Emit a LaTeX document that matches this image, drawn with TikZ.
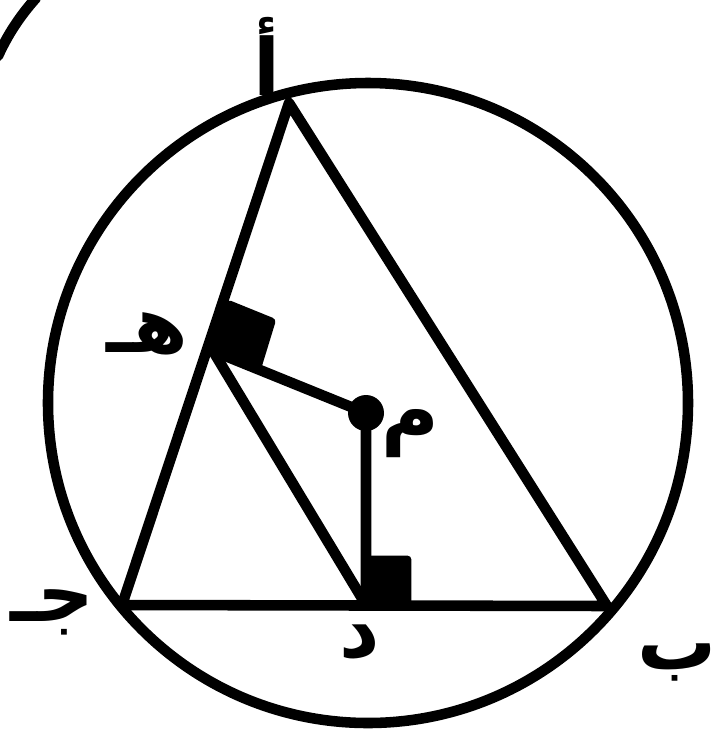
\documentclass[tikz,border=0pt]{standalone}
\usepackage{fontspec}
\usetikzlibrary{calc}
\TeXXeTstate=1
\newfontfamily\arabicfont[Script=Arabic]{DejaVu Sans}
\tikzset{
  ptlabel/.style={font=\arabicfont\bfseries\fontsize{56}{60}\selectfont, inner sep=0pt},
  edge/.style={line width=7.5pt, line cap=round, line join=round},
  rightmark/.style={fill=black, draw=black, line width=2pt, rounded corners=2pt}
}
\begin{document}
\begin{tikzpicture}[x=0.025cm,y=-0.025cm]
	\useasboundingbox (0,0) rectangle (715,739);
	% Points
	\coordinate (O) at (368,403);
	\coordinate (A) at (289,103);
	\coordinate (B) at (607,606);
	\coordinate (C) at (122,605);
	\coordinate (D) at (366,605);
	\coordinate (H) at (213,351);
	\coordinate (M) at (366,413);
	% Circle and edge of the next one
	\draw[edge] (O) circle (320);
	\draw[edge] (-2,56) .. controls (8,34) and (20,16) .. (36,-2);
	% Triangle and segments
	\draw[edge] (A) -- (B) -- (C) -- cycle;
	\draw[edge] (H) -- (D);
	\draw[edge] (H) -- (M) -- (D);
	% Right angle marks
	\coordinate (h1) at ($(H)!1.3cm!(A)$);
	\coordinate (h2) at ($(H)!1.25cm!(M)$);
	\fill[rightmark] (H) -- (h1) -- ($(h1)+(h2)-(H)$) -- (h2) -- cycle;
	\fill[rightmark] (D) -- ++(44,0) -- ++(0,-48) -- ++(-44,0) -- cycle;
	\fill (M) circle (18);
	% Labels
	\node[ptlabel] (lA) at (267,56) {\beginR أ\endR};
	\node[ptlabel] (lB) at (677,662) {\beginR ب\endR};
	\node[ptlabel] (lC) at (52,612) {\beginR جـ\endR};
	\node[ptlabel] (lD) at (360,642) {\beginR د\endR};
	\node[ptlabel] (lH) at (147,334) {\beginR هـ\endR};
	\node[ptlabel] (lM) at (410,434) {\beginR م\endR};
\end{tikzpicture}
\end{document}
